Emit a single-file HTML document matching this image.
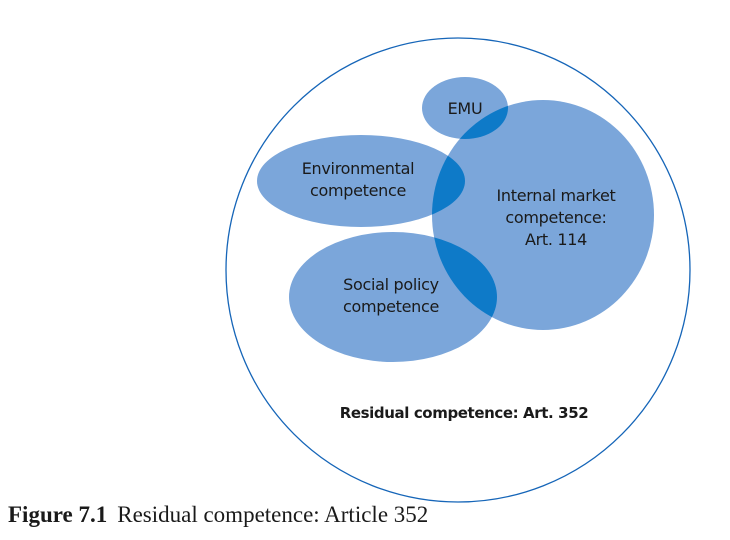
<!DOCTYPE html>
<html><head><style>
html,body{margin:0;padding:0;background:#fff;width:730px;height:540px;overflow:hidden}
</style></head><body>
<svg width="730" height="540" xmlns="http://www.w3.org/2000/svg" style="position:absolute;left:0;top:0">
<defs>
<clipPath id="im"><ellipse cx="543" cy="215" rx="111" ry="115"/></clipPath>
</defs>
<circle cx="458" cy="270" r="232" fill="none" stroke="#1565b8" stroke-width="1.3"/>
<g fill="#7ba6da">
<ellipse cx="465" cy="108" rx="43" ry="31"/>
<ellipse cx="361" cy="181" rx="104" ry="46"/>
<ellipse cx="393" cy="297" rx="104" ry="65"/>
<ellipse cx="543" cy="215" rx="111" ry="115"/>
</g>
<g fill="#0e7ac8" clip-path="url(#im)">
<ellipse cx="465" cy="108" rx="43" ry="31"/>
<ellipse cx="361" cy="181" rx="104" ry="46"/>
<ellipse cx="393" cy="297" rx="104" ry="65"/>
</g>
<g font-family="'DejaVu Sans','Liberation Sans',sans-serif" font-size="16" fill="#1a1a1a" text-anchor="middle" letter-spacing="-0.3">
<text x="465" y="114">EMU</text>
<text x="358" y="174">Environmental</text>
<text x="358" y="196">competence</text>
<text x="556" y="201">Internal market</text>
<text x="556" y="223">competence:</text>
<text x="556" y="245">Art. 114</text>
<text x="391" y="290">Social policy</text>
<text x="391" y="312">competence</text>
<text x="464" y="418" font-weight="bold" font-size="15" letter-spacing="-0.4">Residual competence: Art. 352</text>
</g>
<text x="8" y="522" font-family="'Liberation Serif',serif" font-size="23" fill="#1a1a1a"><tspan font-weight="bold">Figure 7.1</tspan><tspan dx="10">Residual competence: Article 352</tspan></text>
</svg>
</body></html>
